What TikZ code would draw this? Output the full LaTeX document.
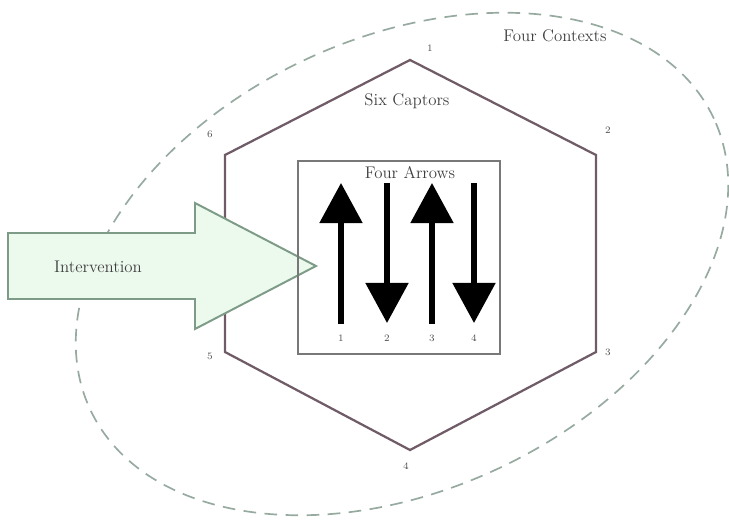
\documentclass[tikz,border=0pt]{standalone}
\usepackage{tikz}
\usetikzlibrary{arrows.meta}
\definecolor{hexline}{RGB}{112,92,102}
\definecolor{ctxline}{RGB}{150,170,160}
\definecolor{inline}{RGB}{120,120,120}
\definecolor{arrline}{RGB}{125,155,135}
\definecolor{arrfill}{RGB}{236,250,238}
\tikzset{
	context/.style={draw=ctxline,line width=1.2pt,dash pattern=on 9pt off 6pt},
	port/.style={draw=hexline,line width=1.6pt,line join=miter},
	corner/.style={font=\scriptsize,text=black!70},
	flow/.style={line width=3.6pt,-{Triangle[width=1.05cm,length=1cm]}},
	label/.style={font=\large,text=black!75}
}
\begin{document}
\begin{tikzpicture}[x=0.025cm,y=-0.025cm]
	\useasboundingbox (0,0) rectangle (729,524);
	% outer context
	\coordinate (o) at (402,264);
	\draw[context,rotate around={25:(o)}] (o) ellipse [x radius=8.6cm,y radius=5.65cm];
	\node[label] (ctx) at (555,36) {Four Contexts};
	% hexagon
	\coordinate (h1) at (410,60);
	\coordinate (h2) at (596,155);
	\coordinate (h3) at (596,352);
	\coordinate (h4) at (410,450);
	\coordinate (h5) at (225,352);
	\coordinate (h6) at (225,155);
	\draw[port] (h1) -- (h2) -- (h3) -- (h4) -- (h5) -- (h6) -- cycle;
	\node[corner] at (430,48) {1};
	\node[corner] at (608,130) {2};
	\node[corner] at (608,352) {3};
	\node[corner] at (406,466) {4};
	\node[corner] at (210,356) {5};
	\node[corner] at (210,134) {6};
	\node[label] (hex) at (407,101) {Six Captors};
	% intervention arrow
	\draw[draw=arrline,fill=arrfill,line width=1.4pt,line join=miter]
		(8,233) -- (195,233) -- (195,203) -- (316,266) -- (195,329) -- (195,299) -- (8,299) -- cycle;
	\node[label] (int) at (98,267) {Intervention};
	% inner box
	\draw[draw=inline,line width=1.6pt] (298,161) rectangle (500,354);
	\node[label] (box) at (410,173) {Four Arrows};
	\foreach \x/\n in {341/1,432/3}{
		\coordinate (a\n) at (\x,324);
		\coordinate (b\n) at (\x,183);
		\draw[flow] (a\n) -- (b\n);
		\node[corner] at (\x,338) {\n};
	}
	\foreach \x/\n in {387/2,474/4}{
		\coordinate (a\n) at (\x,183);
		\coordinate (b\n) at (\x,323);
		\draw[flow] (a\n) -- (b\n);
		\node[corner] at (\x,338) {\n};
	}
\end{tikzpicture}
\end{document}
